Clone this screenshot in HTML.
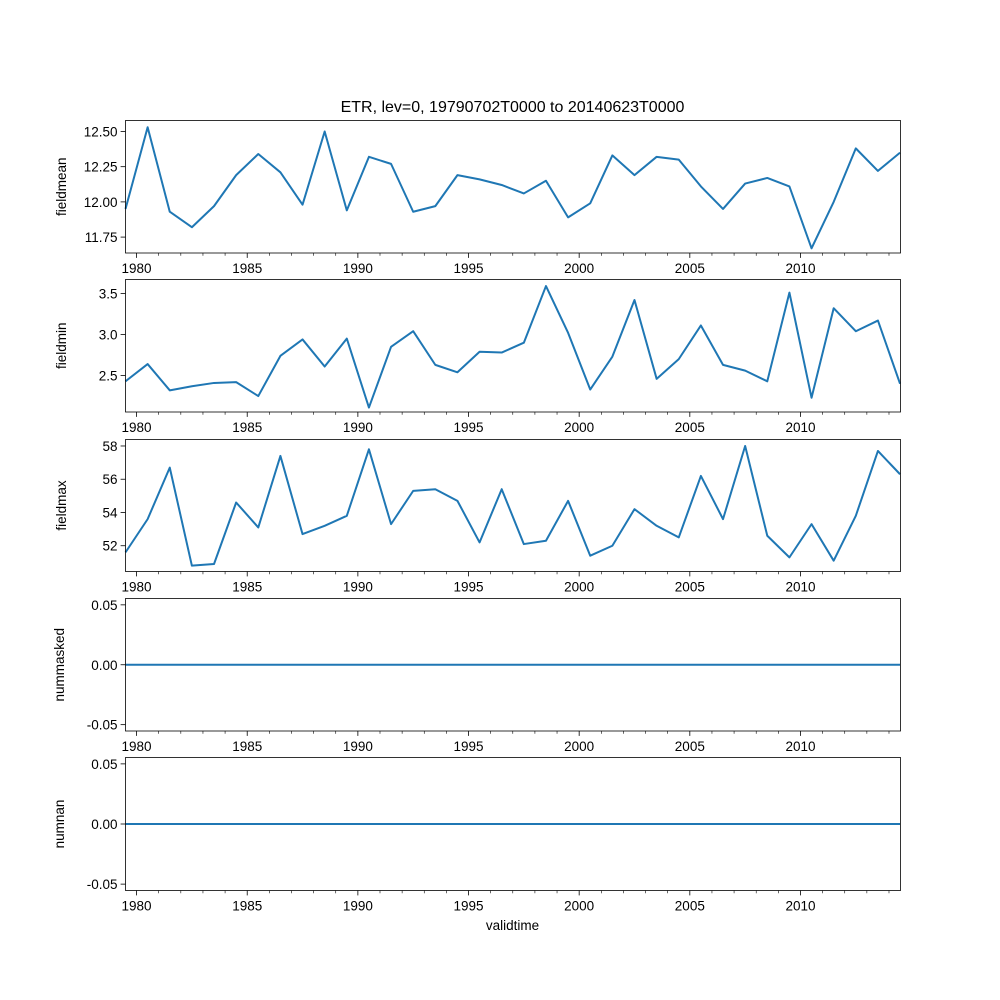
<!DOCTYPE html>
<html><head><meta charset="utf-8"><style>
body{margin:0;background:#fff}
svg{display:block;font-family:"Liberation Sans","DejaVu Sans",sans-serif}
</style></head><body>
<svg id="fig" width="1000" height="1000"></svg>
<script>
const years = [1979.5,1980.5,1981.5,1982.5,1983.5,1984.5,1985.5,1986.5,1987.5,1988.5,1989.5,1990.5,1991.5,1992.5,1993.5,1994.5,1995.5,1996.5,1997.5,1998.5,1999.5,2000.5,2001.5,2002.5,2003.5,2004.5,2005.5,2006.5,2007.5,2008.5,2009.5,2010.5,2011.5,2012.5,2013.5,2014.5];
const fieldmean = [11.95,12.53,11.93,11.82,11.97,12.19,12.34,12.21,11.98,12.50,11.94,12.32,12.27,11.93,11.97,12.19,12.16,12.12,12.06,12.15,11.89,11.99,12.33,12.19,12.32,12.30,12.11,11.95,12.13,12.17,12.11,11.67,12.00,12.38,12.22,12.35];
const fieldmin = [2.43,2.64,2.32,2.37,2.41,2.42,2.25,2.74,2.94,2.61,2.95,2.11,2.85,3.04,2.63,2.54,2.79,2.78,2.90,3.59,3.02,2.33,2.73,3.42,2.46,2.70,3.11,2.63,2.56,2.43,3.51,2.23,3.32,3.04,3.17,2.40];
const fieldmax = [51.6,53.6,56.7,50.8,50.9,54.6,53.1,57.4,52.7,53.2,53.8,57.8,53.3,55.3,55.4,54.7,52.2,55.4,52.1,52.3,54.7,51.4,52.0,54.2,53.2,52.5,56.2,53.6,58.0,52.6,51.3,53.3,51.1,53.8,57.7,56.3];
const nummasked = years.map(()=>0);
const numnan = years.map(()=>0);
const xTicks = [1980,1985,1990,1995,2000,2005,2010];
const meanTicks = [11.75,12.00,12.25,12.50];
const minTicks = [2.5,3.0,3.5];
const maxTicks = [52,54,56,58];
const zeroTicks = [-0.05,0.00,0.05];

const svg = document.getElementById('fig');
const NS = 'http://www.w3.org/2000/svg';
function mk(tag, attrs, parent){const e=document.createElementNS(NS,tag);for(const k in attrs)e.setAttribute(k,attrs[k]);(parent||svg).appendChild(e);return e;}
const L=125.5,R=900.5,X0=1979.5,X1=2014.52;
const xs=v=>L+(v-X0)/(X1-X0)*(R-L);

const title=mk('text',{x:512.5,y:112,'text-anchor':'middle','font-size':'16'});
title.textContent='ETR, lev=0, 19790702T0000 to 20140623T0000';



const panels=[
 {name:'fieldmean',data:fieldmean,top:120.5,bot:253,ymin:11.637,ymax:12.578,ticks:meanTicks,fmt:v=>v.toFixed(2)},
 {name:'fieldmin',data:fieldmin,top:279.5,bot:412,ymin:2.056,ymax:3.67,ticks:minTicks,fmt:v=>v.toFixed(1)},
 {name:'fieldmax',data:fieldmax,top:439.5,bot:571.5,ymin:50.45,ymax:58.39,ticks:maxTicks,fmt:v=>String(v)},
 {name:'nummasked',data:nummasked,top:598.5,bot:731,ymin:-0.0553,ymax:0.0553,ticks:zeroTicks,fmt:v=>v.toFixed(2)},
 {name:'numnan',data:numnan,top:757.5,bot:890.5,ymin:-0.0553,ymax:0.0553,ticks:zeroTicks,fmt:v=>v.toFixed(2)}
];
panels.forEach(p=>{
 const g=mk('g',{});
 
 
 const ys=v=>p.bot-(v-p.ymin)/(p.ymax-p.ymin)*(p.bot-p.top);
 const pts=years.map((y,i)=>xs(y).toFixed(2)+','+ys(p.data[i]).toFixed(2)).join(' ');
 const line=mk('polyline',{points:pts,fill:'none',stroke:'#1f77b4','stroke-width':2,'stroke-linejoin':'round'},g);
 
 
 const frame=mk('rect',{x:L,y:p.top,width:R-L,height:p.bot-p.top,fill:'none',stroke:'#000','stroke-width':0.8},g);
 
 
 for(let yr=1980;yr<=2014;yr++){
  const x=xs(yr),major=yr%5===0;
  mk('line',{x1:x,x2:x,y1:p.bot,y2:p.bot+(major?4.9:2.8),stroke:'#000','stroke-width':major?0.8:0.6},g);
 }
 xTicks.forEach(t=>{
  const tx=mk('text',{x:xs(t),y:p.bot+20,'text-anchor':'middle','font-size':'13.5'},g);
  tx.textContent=t;
  
  
 });
 p.ticks.forEach(t=>{
  const y=ys(t);
  mk('line',{x1:L-4.9,x2:L,y1:y,y2:y,stroke:'#000','stroke-width':0.8},g);
  const tx=mk('text',{x:L-8,y:y+5,'text-anchor':'end','font-size':'13.5'},g);
  tx.textContent=p.fmt(t);
  
  
 });
 const cy=(p.top+p.bot)/2, lx=p.name.startsWith('num')?64:66;
 const yl=mk('text',{x:lx,y:cy,'text-anchor':'middle','font-size':'13.5',transform:'rotate(-90 '+lx+' '+cy+')'},g);
 yl.textContent=p.name;
 
 
});
const xl=mk('text',{x:512.5,y:930,'text-anchor':'middle','font-size':'13.5'});
xl.textContent='validtime';


</script>
</body></html>
